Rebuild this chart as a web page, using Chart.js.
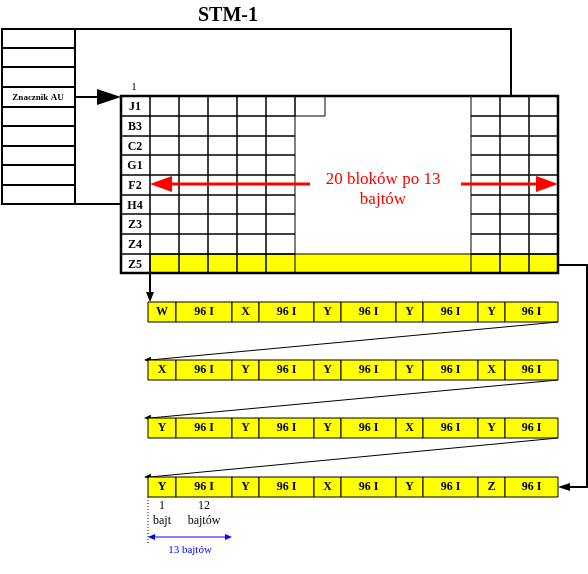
<!DOCTYPE html><html><head><meta charset="utf-8">
<script src="https://cdn.jsdelivr.net/npm/chart.js@4"></script>
<style>body{margin:0;background:#fff}</style></head><body>
<canvas id="c" width="588" height="574"></canvas>
<script>
const title = "STM-1";
const rowLabels = ["J1","B3","C2","G1","F2","H4","Z3","Z4","Z5"];
const markerLabel = "Znacznik AU";
const centerText = ["20 bloków po 13","bajtów"];
const seqRows = [
 ["W","96 I","X","96 I","Y","96 I","Y","96 I","Y","96 I"],
 ["X","96 I","Y","96 I","Y","96 I","Y","96 I","X","96 I"],
 ["Y","96 I","Y","96 I","Y","96 I","X","96 I","Y","96 I"],
 ["Y","96 I","Y","96 I","X","96 I","Y","96 I","Z","96 I"]
];
const byteLabels = [["1","bajt"],["12","bajtów"]];
const spanLabel = "13 bajtów";

const YEL="#ffff00", RED="#ff0000", BLUE="#0000ff";
const plugin={id:'diag',afterDraw(ch){
 const c=ch.ctx, X=v=>ch.scales.x.getPixelForValue(v), Y=v=>ch.scales.y.getPixelForValue(v);
 const rect=(x1,y1,x2,y2,fill,lw)=>{c.beginPath();c.rect(X(x1),Y(y1),X(x2)-X(x1),Y(y2)-Y(y1));if(fill){c.fillStyle=fill;c.fill();}c.lineWidth=lw||1;c.strokeStyle="#000";c.stroke();};
 const line=(pts,lw,col,dash)=>{c.beginPath();pts.forEach((p,i)=>i?c.lineTo(X(p[0]),Y(p[1])):c.moveTo(X(p[0]),Y(p[1])));c.lineWidth=lw;c.strokeStyle=col||"#000";c.setLineDash(dash||[]);c.stroke();c.setLineDash([]);};
 const head=(x,y,dx,dy,len,w,col)=>{const L=Math.hypot(dx,dy),ux=dx/L,uy=dy/L;c.beginPath();c.moveTo(X(x),Y(y));c.lineTo(X(x-ux*len-uy*w),Y(y-uy*len+ux*w));c.lineTo(X(x-ux*len+uy*w),Y(y-uy*len-ux*w));c.closePath();c.fillStyle=col||"#000";c.fill();};
 const text=(s,x,y,font,col)=>{c.font=font;c.fillStyle=col||"#000";c.textAlign="center";c.textBaseline="middle";c.fillText(s,X(x),Y(y));};
 const SF="'Liberation Serif', serif";
 text(title,228,16,"bold 20px "+SF);
 // outer connector
 line([[75,29],[511,29],[511,96]],2);
 line([[75,204],[121,204]],2);
 // left stack
 const sy=[29,48,67,87,107,126,146,165,185,204];
 for(let i=0;i<9;i++) rect(2,sy[i],75,sy[i+1],null,2);
 text(markerLabel,38,98,"bold 9px "+SF);
 line([[75,97],[100,97]],2); head(121,97,1,0,24,8);
 text("1",134,87,"11px "+SF);
 // main grid
 const gy=[96,116,136,155,175,195,214,234,254,273];
 const gx=[150,179,208,237,266,295], gx2=[471,500,529,558];
 rect(150,254,558,273,YEL,1);
 for(let r=0;r<9;r++){
  rect(121,gy[r],150,gy[r+1],null,1);
  text(rowLabels[r],135,(gy[r]+gy[r+1])/2+1,"bold 12px "+SF);
  if(r<8){for(let k=0;k<5;k++)rect(gx[k],gy[r],gx[k+1],gy[r+1],null,1);
  for(let k=0;k<3;k++)rect(gx2[k],gy[r],gx2[k+1],gy[r+1],null,1);}
 }
 rect(295,96,325,116,null,1);
 for(let k=0;k<5;k++)rect(gx[k],254,gx[k+1],273,null,1);
 for(let k=0;k<3;k++)rect(gx2[k],254,gx2[k+1],273,null,1);
 rect(121,96,558,273,null,2.5);
 text(centerText[0],383,180,"17px "+SF,RED);
 text(centerText[1],383,200,"17px "+SF,RED);
 line([[310,184],[170,184]],3,RED); head(150,184,-1,0,22,8,RED);
 line([[461,184],[538,184]],3,RED); head(558,184,1,0,22,8,RED);
 // sequence rows
 const ry=[302,360,418,477], w=[28,56,27,55,27,55,27,55,27,53];
 line([[150,273],[150,292]],2); head(150,302,0,1,10,4);
 line([[558,265],[587,265],[587,487],[570,487]],2); head(558,487,-1,0,12,4);
 seqRows.forEach((row,r)=>{let x=148;row.forEach((s,k)=>{rect(x,ry[r],x+w[k],ry[r]+20,YEL,1);text(s,x+w[k]/2,ry[r]+10,"bold 12px "+SF);x+=w[k];});
  if(r<3){line([[558,ry[r]+20],[150,ry[r+1]]],1);head(144,ry[r+1],-1,0.05,7,3);}});
 text(byteLabels[0][0],162,506,"12px "+SF);text(byteLabels[0][1],162,521,"12px "+SF);
 text(byteLabels[1][0],204,506,"12px "+SF);text(byteLabels[1][1],204,521,"12px "+SF);
 line([[148,497],[148,545]],1,"#000",[1,2]);
 line([[155,537],[225,537]],1,BLUE);head(148,537,-1,0,7,3,BLUE);head(232,537,1,0,7,3,BLUE);
 text(spanLabel,190,550,"11px "+SF,BLUE);
}};
new Chart(document.getElementById('c'),{type:'scatter',data:{datasets:[{data:[]}]},
 options:{responsive:false,animation:false,layout:{padding:0},plugins:{legend:{display:false},tooltip:{enabled:false}},
 scales:{x:{type:'linear',min:0,max:588,display:false},y:{type:'linear',min:0,max:574,reverse:true,display:false}}},plugins:[plugin]});
</script></body></html>
